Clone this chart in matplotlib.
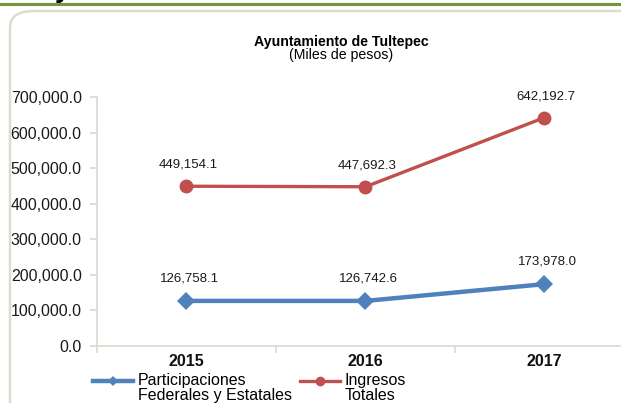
import matplotlib
matplotlib.use("Agg")
import matplotlib.pyplot as plt
from matplotlib.lines import Line2D
from matplotlib.patches import FancyBboxPatch

plt.rcParams['font.family'] = ['Liberation Sans', 'DejaVu Sans']

# --- Data (miles de pesos) ---
years = ["2015", "2016", "2017"]
participaciones = [126758.1, 126742.6, 173978.0]
ingresos = [449154.1, 447692.3, 642192.7]
yticks = [0, 100000, 200000, 300000, 400000, 500000, 600000, 700000]
series_names = ["Participaciones\nFederales y Estatales", "Ingresos\nTotales"]

blue = '#4F81BD'
red = '#C0504D'
axis_col = '#D9D9D0'

W, H = 621, 403
fig = plt.figure(figsize=(W / 100, H / 100), dpi=100)

# green rule at top and the rounded frame
fig.add_artist(Line2D([0, 1], [1 - 3.5 / H, 1 - 3.5 / H], transform=fig.transFigure,
                      color='#77933C', linewidth=2.2))
fig.add_artist(FancyBboxPatch((10 / W, -20 / H), 700 / W, (H - 11 + 20) / H,
                              boxstyle="round,pad=0,rounding_size=0.04",
                              transform=fig.transFigure, facecolor='none',
                              edgecolor='#DCDCD0', linewidth=1.8))
# cropped heading letter at the very top
fig.text(55 / W, 1 + 3 / H, "y", fontsize=20, fontweight='bold', va='baseline')

ax = fig.add_axes([97 / W, 57 / H, 537 / W, 249 / H])
x = list(range(len(years)))

ax.plot(x, participaciones, color=blue, linewidth=3.2, marker='D', markersize=9,
        markeredgewidth=0)
ax.plot(x, ingresos, color=red, linewidth=2.4, marker='o', markersize=10,
        markeredgewidth=0)

for xi, v in zip(x, participaciones):
    ax.annotate(f"{v:,.1f}", (xi, v), xytext=(2, 12), textcoords='offset points',
                ha='center', va='bottom', fontsize=9.5, color='#1a1a1a')
for xi, v in zip(x, ingresos):
    ax.annotate(f"{v:,.1f}", (xi, v), xytext=(1, 11), textcoords='offset points',
                ha='center', va='bottom', fontsize=9.5, color='#1a1a1a')

ax.set_xlim(-0.5, 2.5)
ax.set_ylim(0, 700000)
ax.set_yticks(yticks)
ax.set_yticklabels([f"{v:,.1f}" for v in yticks], fontsize=11.5, color='#1a1a1a')
ax.set_xticks(x)
ax.set_xticklabels(years, fontsize=11.5, fontweight='bold', color='#111111')
ax.set_xticks([-0.5, 0.5, 1.5, 2.5], minor=True)
ax.tick_params(axis='x', which='major', length=0, pad=6)
ax.tick_params(axis='x', which='minor', length=5, color=axis_col, width=1.2)
ax.tick_params(axis='y', length=5, color=axis_col, width=1.2, pad=6)

for side in ['top', 'right']:
    ax.spines[side].set_visible(False)
for side in ['left', 'bottom']:
    ax.spines[side].set_color(axis_col)
    ax.spines[side].set_linewidth(1.2)

fig.text(341 / W, 1 - 42 / H, "Ayuntamiento de Tultepec", ha='center', va='center',
         fontsize=10.2, fontweight='bold')
fig.text(341 / W, 1 - 55 / H, "(Miles de pesos)", ha='center', va='center',
         fontsize=10.2)

# legend, drawn by hand so the key sits on the first text line
legend_items = [(93, blue, 'D', 5, 3.2), (300, red, 'o', 7, 2.4)]
for (x0, col, mk, ms, lw), name in zip(legend_items, series_names):
    yk = 1 - 381 / H
    fig.add_artist(Line2D([x0 / W, (x0 + 40) / W], [yk, yk], transform=fig.transFigure,
                          color=col, linewidth=lw))
    fig.add_artist(Line2D([(x0 + 20) / W], [yk], transform=fig.transFigure,
                          color=col, marker=mk, markersize=ms, markeredgewidth=0))
    fig.text((x0 + 45) / W, 1 - 373 / H, name, ha='left', va='top',
             fontsize=11.5, linespacing=1.0)

fig.savefig("out.png", dpi=100)
